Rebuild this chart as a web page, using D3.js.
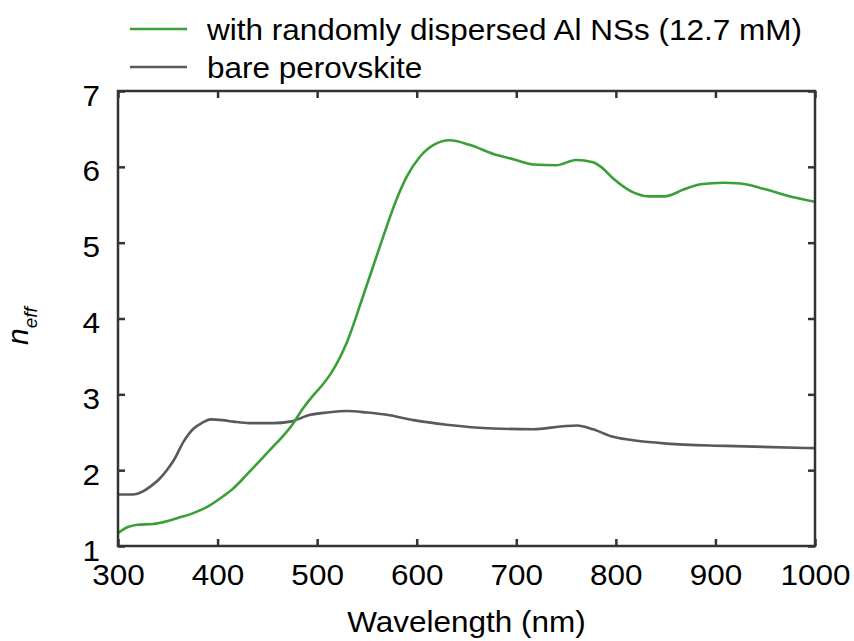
<!DOCTYPE html>
<html><head><meta charset="utf-8">
<script src="https://cdn.jsdelivr.net/npm/d3@7"></script>
<style>body{margin:0;background:#fff}svg{display:block}text{font-family:"Liberation Sans",Arial,sans-serif;fill:#000}</style>
</head><body>
<svg id="c" width="854" height="641"></svg>
<script>
const xTicks=[300,400,500,600,700,800,900,1000];
const yTicks=[1,2,3,4,5,6,7];
const seriesNames=["with randomly dispersed Al NSs (12.7 mM)","bare perovskite"];
const greenWl=[300,310,320,335,350,360,375,390,405,415,425,435,445,455,465,475,485,495,505,515,530,546,563,580,590,603,617,633,653,677,697,717,740,760,777,785,797,818,834,849,868,885,908,925,951,975,1000];
const greenN=[1.17,1.25,1.28,1.29,1.33,1.37,1.43,1.52,1.65,1.75,1.88,2.02,2.16,2.30,2.44,2.60,2.80,2.97,3.12,3.30,3.69,4.29,4.95,5.58,5.87,6.13,6.29,6.35,6.29,6.17,6.10,6.03,6.02,6.09,6.06,6.00,5.85,5.66,5.61,5.61,5.70,5.77,5.79,5.78,5.70,5.61,5.54];
const grayWl=[300,315,325,332,342,349,356,366,376,384,393,405,416,432,456,473,493,510,530,550,570,597,630,677,717,747,761,777,797,814,851,911,1000];
const grayN=[1.68,1.68,1.72,1.78,1.89,2.00,2.13,2.38,2.55,2.62,2.67,2.66,2.64,2.62,2.62,2.64,2.73,2.76,2.78,2.76,2.73,2.66,2.60,2.55,2.54,2.58,2.59,2.54,2.44,2.40,2.35,2.32,2.29];
const colors=["#3b9f37","#595959"];

const L=118,R=815,T=91,B=546;
const svg=d3.select("#c");
const x=d3.scaleLinear().domain([300,1000]).range([L,R]);
const y=d3.scaleLinear().domain([1,7]).range([B,T]);
const SX=1.05, FS=30, axisCol="#333";

function styleAxis(g){g.select(".domain").remove();g.selectAll(".tick line").attr("stroke",axisCol).attr("stroke-width",2.5);}

// bottom axis
const gb=svg.append("g").attr("transform",`translate(0,${B})`)
  .call(d3.axisBottom(x).tickValues(xTicks).tickSize(-7).tickFormat(d3.format("d")));
styleAxis(gb);
gb.selectAll(".tick text").attr("y",0).attr("dy",0).attr("font-size",FS).attr("fill","#000")
  .attr("transform",`translate(0,39) scale(${SX},1)`);
// top axis
const gt=svg.append("g").attr("transform",`translate(0,${T})`)
  .call(d3.axisTop(x).tickValues(xTicks).tickSize(-7).tickFormat(""));
styleAxis(gt);
// left axis
const gl=svg.append("g").attr("transform",`translate(${L},0)`)
  .call(d3.axisLeft(y).tickValues(yTicks).tickSize(-7).tickFormat(d3.format("d")));
styleAxis(gl);
gl.selectAll(".tick text").attr("x",0).attr("dy",0).attr("font-size",FS).attr("fill","#000")
  .attr("text-anchor","end").attr("transform",`translate(-18,14) scale(${SX},1)`);
// right axis
const gr=svg.append("g").attr("transform",`translate(${R},0)`)
  .call(d3.axisRight(y).tickValues(yTicks).tickSize(-7).tickFormat(""));
styleAxis(gr);

// lines
const line=d3.line().x(d=>x(d[0])).y(d=>y(d[1])).curve(d3.curveMonotoneX);
const data=[d3.zip(greenWl,greenN),d3.zip(grayWl,grayN)];
svg.append("clipPath").attr("id","pc").append("rect").attr("x",L).attr("y",T).attr("width",R-L).attr("height",B-T);
svg.append("g").attr("clip-path","url(#pc)").selectAll("path").data([data[1],data[0]]).join("path")
  .attr("d",line).attr("fill","none").attr("stroke",(d,i)=>i===0?colors[1]:colors[0]).attr("stroke-width",2.6);

// frame
svg.append("rect").attr("x",L).attr("y",T).attr("width",R-L).attr("height",B-T)
  .attr("fill","none").attr("stroke",axisCol).attr("stroke-width",2.5);

// x label
svg.append("text").attr("transform",`translate(${(L+R)/2},632) scale(${SX},1)`).attr("text-anchor","middle")
  .attr("font-size",FS).text("Wavelength (nm)");
// y label
const yl=svg.append("text").attr("transform","translate(28,345) rotate(-90)").attr("font-style","italic");
yl.append("tspan").attr("font-size",30).text("n");
yl.append("tspan").attr("font-size",19).attr("dy",9).text("eff");

// legend
const legY=[29,67], txtY=[40,78];
seriesNames.forEach((n,i)=>{
  svg.append("line").attr("x1",130).attr("x2",187).attr("y1",legY[i]).attr("y2",legY[i])
    .attr("stroke",colors[i]).attr("stroke-width",2.6);
  svg.append("text").attr("transform",`translate(207,${txtY[i]}) scale(${SX},1)`).attr("font-size",FS).text(n);
});
</script>
</body></html>
